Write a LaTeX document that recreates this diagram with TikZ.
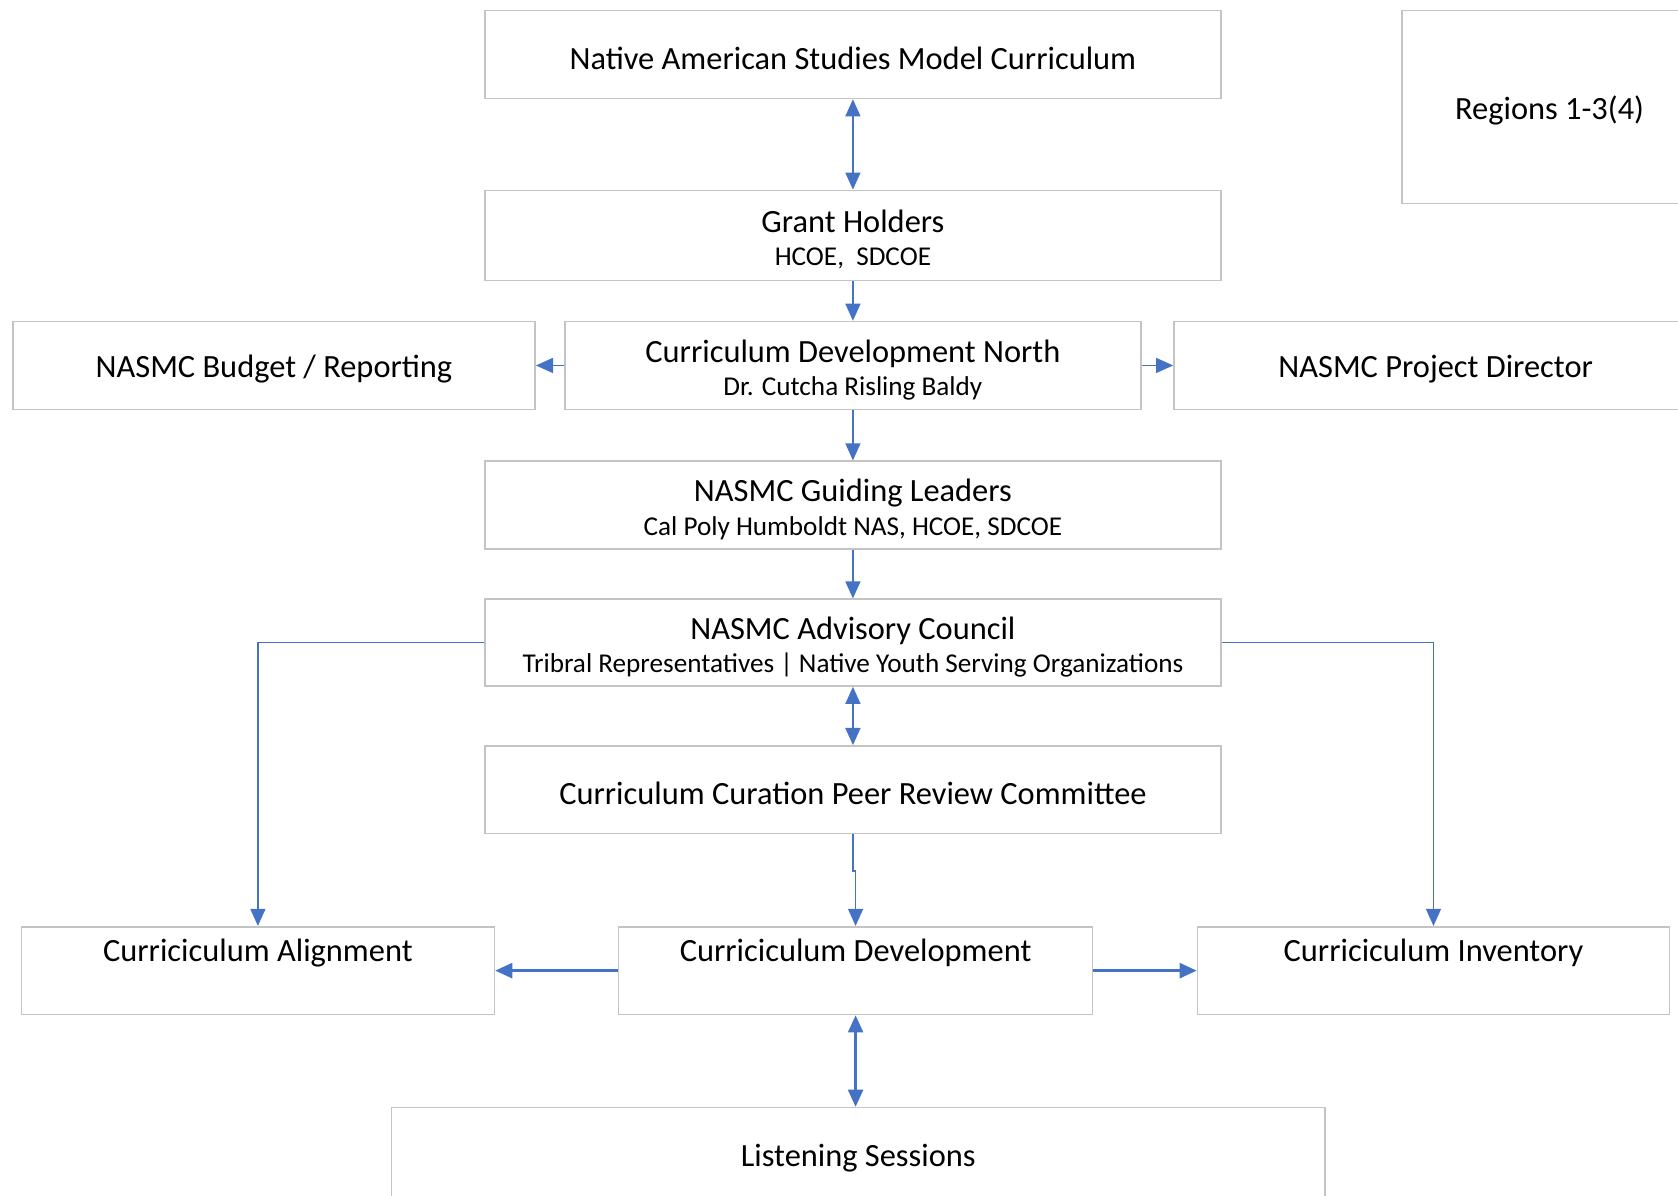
\documentclass[tikz,border=0pt]{standalone}
\usepackage{fontspec}
\setmainfont{Carlito}
\usetikzlibrary{arrows.meta,positioning}
\definecolor{linkblue}{HTML}{4472C4}
\definecolor{boxgray}{HTML}{C4C4C4}
\newcommand{\mainsize}{\fontsize{15.15}{18}\selectfont}
\newcommand{\subsize}{\fontsize{12.7}{14}\selectfont}
\newcommand{\titlepad}{\rule{0pt}{14.6pt}}

\begin{document}
\begin{tikzpicture}[x=0.5pt,y=-0.5pt]
\tikzstyle{block} = [rectangle, draw=boxgray, line width=0.75pt, align=center,
inner sep=0pt, minimum height=41pt, font=\mainsize, execute at begin node=\rule{0pt}{14pt}]
\tikzstyle{line} = [draw=linkblue, line width=0.75pt, -{Triangle[length=8pt,width=7pt]}]
\tikzstyle{twoway} = [line, {Triangle[length=8pt,width=7pt]}-{Triangle[length=8pt,width=7pt]}]
\useasboundingbox (0,0) rectangle (1568,1117);
% row 1
\node [block, minimum width=344pt] (nasmc) at (797,51) {Native American Studies Model Curriculum};
\node [block, minimum width=138pt, minimum height=90pt] (regions) at (1448,100) {Regions 1-3(4)};
% row 2
\node [block, minimum width=344pt, minimum height=42pt] (grant) at (797,220)
{\titlepad Grant Holders\\[-2.5pt]{\subsize HCOE,\ \ SDCOE}};
% row 3
\node [block, minimum width=244pt] (budget) at (256,341.5) {NASMC Budget / Reporting};
\node [block, minimum width=269pt] (cdn) at (797,341.5)
{\titlepad Curriculum Development North\\[-2.5pt]{\subsize Dr. Cutcha Risling Baldy}};
\node [block, minimum width=244.5pt] (director) at (1341.5,341.5) {NASMC Project Director};
% row 4
\node [block, minimum width=344pt] (guide) at (797,472)
{\titlepad NASMC Guiding Leaders\\[-2.5pt]{\subsize Cal Poly Humboldt NAS, HCOE, SDCOE}};
% row 5
\node [block, minimum width=344pt, minimum height=40.5pt] (adv) at (797,600.5)
{\titlepad NASMC Advisory Council\\[-2.5pt]{\subsize Tribral Representatives | Native Youth Serving Organizations}};
% row 6
\node [block, minimum width=344pt] (peer) at (797,738) {Curriculum Curation Peer Review Committee};
% row 7
\node [block, minimum width=221pt] (align) at (241,907) {Curriciculum Alignment\\[-4pt] \strut};
\node [block, minimum width=221.5pt] (dev) at (799.5,907) {Curriciculum Development\\[-4pt] \strut};
\node [block, minimum width=220.5pt] (inv) at (1339.5,907) {Curriciculum Inventory\\[-4pt] \strut};
% row 8
\node [block, minimum width=436pt, minimum height=44pt] (listen) at (802,1079) {Listening Sessions};

\path [twoway] (nasmc) -- (grant);
\path [line] (grant) -- (cdn);
\path [line] (cdn) -- (budget);
\path [line] (cdn) -- (director);
\path [line] (cdn) -- (guide);
\path [line] (guide) -- (adv);
\path [twoway] (adv) -- (peer);
\path [line] (adv.west) -| (align.north);
\path [line] (adv.east) -| (inv.north);
\path [line] (peer.south) -- ++(0,34) -| (dev.north);
\path [line, line width=1.3pt] (dev) -- (align);
\path [line, line width=1.3pt] (dev) -- (inv);
\path [twoway, line width=1.1pt] (dev.south) -- (dev.south |- listen.north);

\end{tikzpicture}
\end{document}
